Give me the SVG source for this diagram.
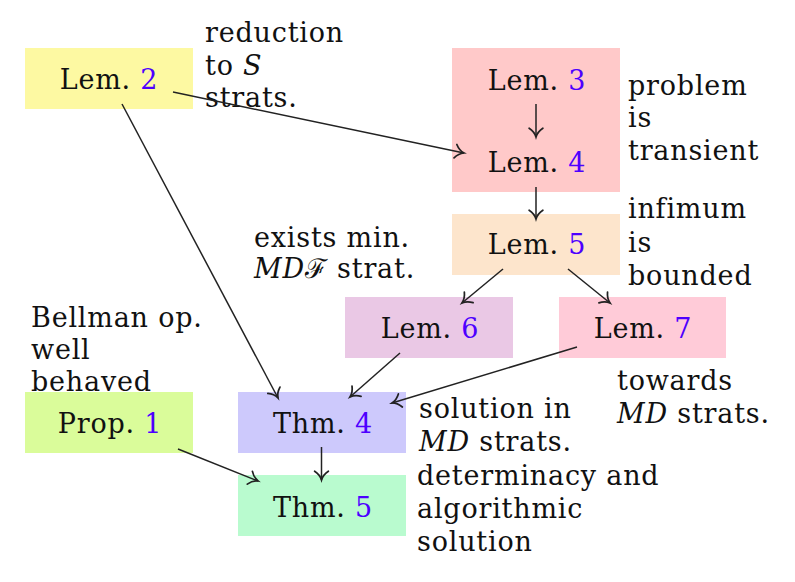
<svg xmlns="http://www.w3.org/2000/svg" width="795" height="582" viewBox="0 0 795 582">
<defs>
<style>
text{font-family:"DejaVu Serif","Liberation Serif",serif;font-size:27px;letter-spacing:0.8px;fill:#111}
.n{text-anchor:middle}
.b{fill:#4d00ff}
.i{font-style:italic}
.c{fill:none;stroke:#222;stroke-width:1.5;marker-end:url(#ah)}
</style>
<marker id="ah" markerUnits="userSpaceOnUse" markerWidth="20" markerHeight="20" viewBox="-10 -8 12 16" refX="0" refY="0" orient="auto">
<path d="M-7,-5.5 C-5,-2.5 -2,-0.6 0,0 C-2,0.6 -5,2.5 -7,5.5" fill="none" stroke="#222" stroke-width="1.4" stroke-linecap="round"/>
</marker>
</defs>
<rect width="795" height="582" fill="#fff"/>
<g id="lem2"><rect x="25" y="48" width="168" height="61" fill="#fdf9a2"/><text class="n" x="109" y="89">Lem. <tspan class="b">2</tspan></text></g>
<g id="lem34"><rect x="452" y="48" width="168" height="144" fill="#ffc9c9"/><text class="n" x="537" y="90">Lem. <tspan class="b">3</tspan></text><text class="n" x="537" y="172">Lem. <tspan class="b">4</tspan></text></g>
<g id="lem5"><rect x="452" y="214" width="168" height="61" fill="#fde5cc"/><text class="n" x="537" y="254">Lem. <tspan class="b">5</tspan></text></g>
<g id="lem6"><rect x="345" y="297" width="168" height="61" fill="#eac8e5"/><text class="n" x="430" y="338">Lem. <tspan class="b">6</tspan></text></g>
<g id="lem7"><rect x="559" y="297" width="167" height="61" fill="#ffcbd8"/><text class="n" x="643" y="338">Lem. <tspan class="b">7</tspan></text></g>
<g id="prop1"><rect x="25" y="392" width="168" height="61" fill="#dafc9a"/><text class="n" x="110" y="433">Prop. <tspan class="b">1</tspan></text></g>
<g id="thm4"><rect x="238" y="392" width="168" height="61" fill="#cdc9fc"/><text class="n" x="323" y="433">Thm. <tspan class="b">4</tspan></text></g>
<g id="thm5"><rect x="238" y="475" width="168" height="61" fill="#b9fbcf"/><text class="n" x="323" y="517">Thm. <tspan class="b">5</tspan></text></g>
<g id="labels">
<text x="205" y="42">reduction</text>
<text x="205" y="74.5">to <tspan class="i">S</tspan></text>
<text x="205" y="107">strats.</text>
<text x="628" y="94.5">problem</text>
<text x="628" y="127">is</text>
<text x="628" y="160">transient</text>
<text x="628" y="218">infimum</text>
<text x="628" y="251.5">is</text>
<text x="628" y="285">bounded</text>
<text x="254" y="247">exists min.</text>
<text x="254" y="278"><tspan class="i">MD</tspan>ℱ strat.</text>
<text x="31" y="327">Bellman op.</text>
<text x="31" y="358.5">well</text>
<text x="31" y="391">behaved</text>
<text x="617" y="390">towards</text>
<text x="617" y="423"><tspan class="i">MD</tspan> strats.</text>
<text x="419" y="418">solution in</text>
<text x="419" y="451"><tspan class="i">MD</tspan> strats.</text>
<text x="417" y="485">determinacy and</text>
<text x="417" y="518">algorithmic</text>
<text x="417" y="551">solution</text>
</g>
<g id="connectors">
<path class="c" d="M173,92 L464,153"/>
<path class="c" d="M122,104 L278,398"/>
<path class="c" d="M536,104 L536,137"/>
<path class="c" d="M536,187 L536,219"/>
<path class="c" d="M503,269 L462,303"/>
<path class="c" d="M568,269 L610,303"/>
<path class="c" d="M400,353 L350,397"/>
<path class="c" d="M577,347 L392,403"/>
<path class="c" d="M321.5,447 L321.5,480"/>
<path class="c" d="M178,449 L258,481"/>
</g>
</svg>
